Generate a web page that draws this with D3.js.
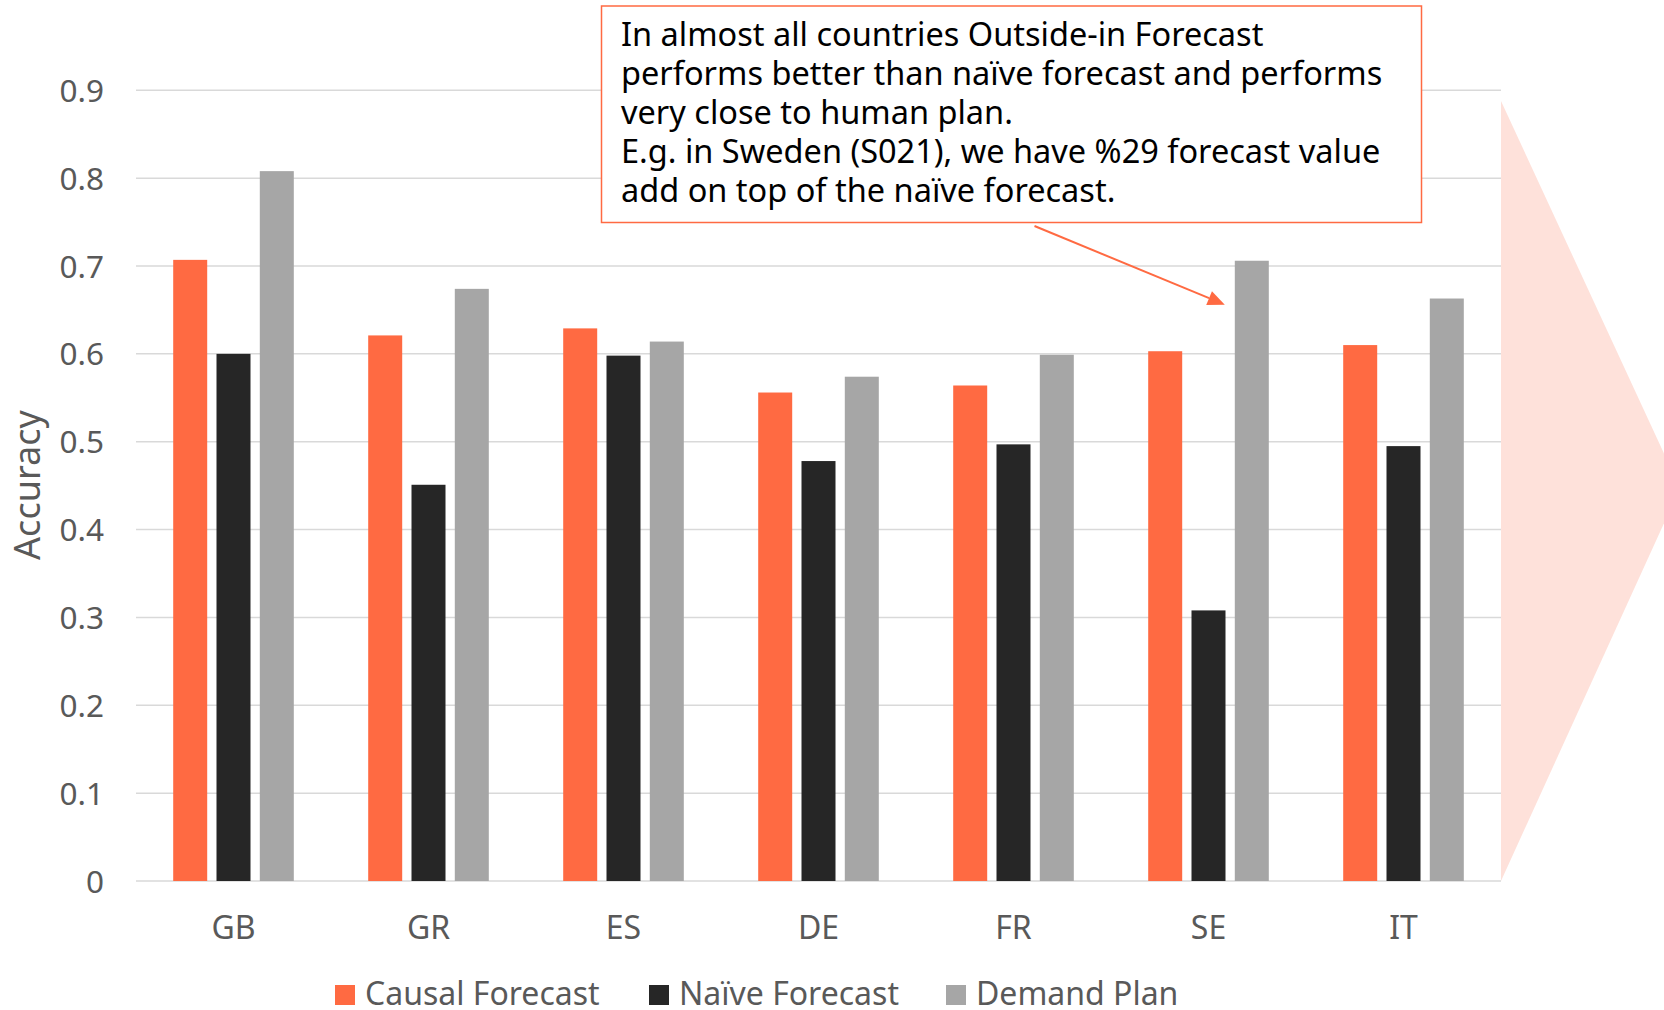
<!DOCTYPE html>
<html>
<head>
<meta charset="utf-8">
<script src="https://cdn.jsdelivr.net/npm/d3@7"></script>
<style>
  html, body { margin: 0; padding: 0; background: #fff; }
  svg { display: block; font-family: "Noto Sans", "Open Sans", sans-serif; }
</style>
</head>
<body>
<svg id="chart" width="1664" height="1010"></svg>
<script>
// Accuracy per country for three forecasting approaches
const countries = ["GB", "GR", "ES", "DE", "FR", "SE", "IT"];
const seriesNames = ["Causal Forecast", "Naïve Forecast", "Demand Plan"];
const causalForecast = [0.707, 0.621, 0.629, 0.556, 0.564, 0.603, 0.610];
const naiveForecast  = [0.600, 0.451, 0.598, 0.478, 0.497, 0.308, 0.495];
const demandPlan     = [0.808, 0.674, 0.614, 0.574, 0.599, 0.706, 0.663];
const yTicks = [0, 0.1, 0.2, 0.3, 0.4, 0.5, 0.6, 0.7, 0.8, 0.9];
const seriesColors = ["#FF6A42", "#262626", "#A6A6A6"];
const noteLines = [
  "In almost all countries Outside-in Forecast",
  "performs better than naïve forecast and performs",
  "very close to human plan.",
  "E.g. in Sweden (S021), we have %29 forecast value",
  "add on top of the naïve forecast."
];

const series = [causalForecast, naiveForecast, demandPlan];

const svg = d3.select("#chart");
const plot = { left: 136, right: 1501, top: 90.3, bottom: 881 };

const x = d3.scaleBand().domain(countries).range([plot.left, plot.right]).padding(0);
const y = d3.scaleLinear().domain([0, 0.9]).range([plot.bottom, plot.top]);

// bar layout inside each country band
const barWidth = 34;
const barStep = 43.3;
const inner = d3.scaleLinear().domain([0, 2]).range([-barStep, barStep]);

// decorative chevron on the right
svg.append("polygon")
  .attr("points", [[1501, 101], [1680, 488], [1501, 881]].map(p => p.join(",")).join(" "))
  .attr("fill", "#FEE1DA");

// horizontal gridlines
svg.append("g").selectAll("line")
  .data(yTicks)
  .join("line")
  .attr("x1", plot.left).attr("x2", plot.right)
  .attr("y1", d => y(d)).attr("y2", d => y(d))
  .attr("stroke", "#D9D9D9").attr("stroke-width", 1.5);

// y axis tick labels
const yAxis = d3.axisLeft(y).tickValues(yTicks).tickSize(0).tickPadding(0)
  .tickFormat(d => d === 0 ? "0" : d3.format(".1f")(d));
const yG = svg.append("g").attr("transform", `translate(${plot.left - 32},0)`).call(yAxis);
yG.select(".domain").remove();
yG.selectAll("text")
  .attr("font-size", 31.5).attr("fill", "#595959")
  .attr("font-family", "'Noto Sans', sans-serif")
  .attr("dy", "0.35em");

// y axis title
svg.append("text")
  .attr("transform", `translate(40,485) rotate(-90)`)
  .attr("text-anchor", "middle")
  .attr("font-size", 36).attr("fill", "#595959")
  .text("Accuracy");

// bars
const groups = svg.append("g").selectAll("g")
  .data(countries)
  .join("g")
  .attr("transform", d => `translate(${x(d) + x.bandwidth() / 2},0)`);

groups.selectAll("rect")
  .data((c, i) => series.map((s, k) => ({ k, v: s[i] })))
  .join("rect")
  .attr("x", d => inner(d.k) - barWidth / 2)
  .attr("width", barWidth)
  .attr("y", d => y(d.v))
  .attr("height", d => y(0) - y(d.v))
  .attr("fill", d => seriesColors[d.k]);

// x axis labels
const xAxis = d3.axisBottom(x).tickSize(0).tickPadding(0);
const xG = svg.append("g").attr("transform", `translate(0,${plot.bottom})`).call(xAxis);
xG.select(".domain").remove();
xG.selectAll("text")
  .attr("font-size", 32).attr("fill", "#595959")
  .attr("font-family", "'Noto Sans', sans-serif")
  .attr("dy", null).attr("y", 58);

// legend
const legendItems = [
  { name: seriesNames[0], color: seriesColors[0], x: 335 },
  { name: seriesNames[1], color: seriesColors[1], x: 649 },
  { name: seriesNames[2], color: seriesColors[2], x: 946 }
];
const lg = svg.append("g").selectAll("g").data(legendItems).join("g")
  .attr("transform", d => `translate(${d.x},985)`);
lg.append("rect").attr("width", 20).attr("height", 20).attr("fill", d => d.color);
lg.append("text").attr("x", 30).attr("y", 20)
  .attr("font-size", 32).attr("fill", "#595959")
  .text(d => d.name);

// callout box
svg.append("rect")
  .attr("x", 601.5).attr("y", 6).attr("width", 820).attr("height", 216.5)
  .attr("fill", "#fff").attr("stroke", "#FF6A42").attr("stroke-width", 1.5);
svg.append("g").selectAll("text")
  .data(noteLines)
  .join("text")
  .attr("x", 621).attr("y", (d, i) => 46 + i * 38.9)
  .attr("font-size", 32.5).attr("fill", "#000")
  .text(d => d);

// arrow from the callout to the Swedish bars
const seX = x("SE") + x.bandwidth() / 2 + inner(2) - barWidth / 2;
const tip = [seX - 10, y(0.656)];
const start = [1034.5, 226];
const ang = Math.atan2(tip[1] - start[1], tip[0] - start[0]);
const headLen = 17, headHalf = 7.5;
const base = [tip[0] - headLen * Math.cos(ang), tip[1] - headLen * Math.sin(ang)];
svg.append("line")
  .attr("x1", start[0]).attr("y1", start[1])
  .attr("x2", base[0]).attr("y2", base[1])
  .attr("stroke", "#FF6A42").attr("stroke-width", 2);
svg.append("polygon")
  .attr("points", [
    tip,
    [base[0] + headHalf * Math.sin(ang), base[1] - headHalf * Math.cos(ang)],
    [base[0] - headHalf * Math.sin(ang), base[1] + headHalf * Math.cos(ang)]
  ].map(p => p.join(",")).join(" "))
  .attr("fill", "#FF6A42");
</script>
</body>
</html>
